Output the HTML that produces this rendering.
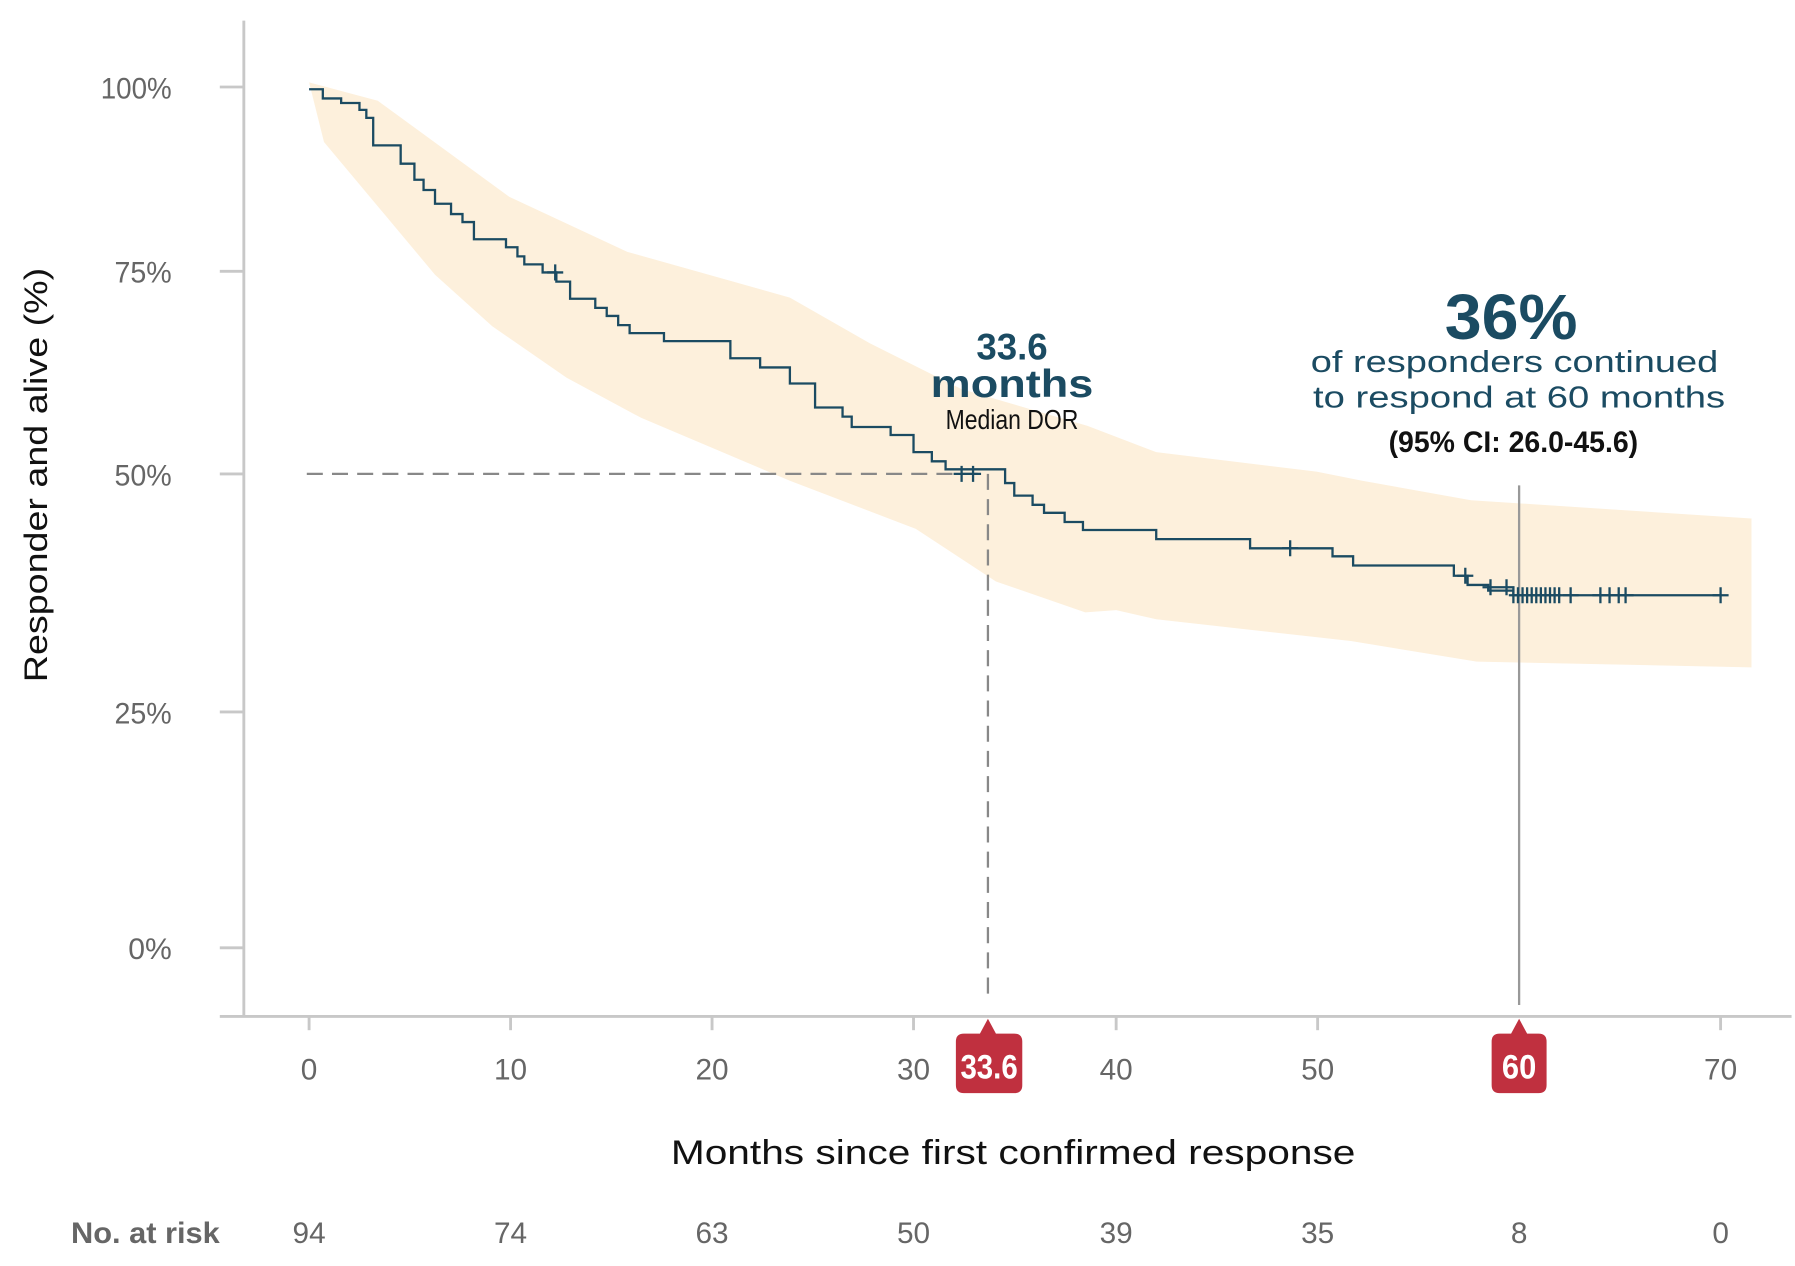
<!DOCTYPE html>
<html><head><meta charset="utf-8"><style>html,body{margin:0;padding:0;background:#fff}svg{display:block}</style></head>
<body>
<svg width="1795" height="1266" viewBox="0 0 1568 1106" preserveAspectRatio="none" xmlns="http://www.w3.org/2000/svg" font-family="Liberation Sans, sans-serif">
<rect width="1568" height="1106" fill="#fff"/>
<polygon fill="#fdf0dc" points="270,72 330,88 445,172 548,220 690,260 760,300 840,340 950,372 1010,395 1150,412 1190,420 1285,437 1530,453 1530,583 1290,578 1180,560 1010,541 975,533 948,535 870,508 800,462 690,420 560,365 495,330 430,285 380,240 283,124"/>
<g stroke="#c8c8c8" stroke-width="2.5">
<line x1="213" y1="18" x2="213" y2="888"/>
<line x1="192" y1="888" x2="1565" y2="888"/>
<line x1="192" y1="76" x2="213" y2="76"/><line x1="192" y1="237" x2="213" y2="237"/><line x1="192" y1="414" x2="213" y2="414"/><line x1="192" y1="622" x2="213" y2="622"/><line x1="192" y1="828" x2="213" y2="828"/>
<line x1="270" y1="888" x2="270" y2="900"/><line x1="446" y1="888" x2="446" y2="900"/><line x1="622" y1="888" x2="622" y2="900"/><line x1="798" y1="888" x2="798" y2="900"/><line x1="975" y1="888" x2="975" y2="900"/><line x1="1151" y1="888" x2="1151" y2="900"/><line x1="1503" y1="888" x2="1503" y2="900"/>
</g>
<line x1="268" y1="414" x2="855" y2="414" stroke="#888" stroke-width="2" stroke-dasharray="14,8"/>
<line x1="863" y1="414" x2="863" y2="872" stroke="#888" stroke-width="2" stroke-dasharray="14,8"/>
<line x1="1327" y1="424" x2="1327" y2="878" stroke="#999" stroke-width="2"/>
<path fill="none" stroke="#1b4b62" stroke-width="2" d="M270,78 H282 V86 H298 V90 H314 V96 H320 V103 H326 V127 H350 V143 H362 V157 H370 V166 H380 V178 H394 V187 H404 V194 H414 V209 H442 V216 H452 V224 H458 V231 H474 V238 H486 V246 H498 V261 H520 V269 H530 V276 H540 V284 H550 V291 H580 V298 H638 V313 H664 V321 H690 V335 H712 V356 H736 V364 H744 V373 H778 V380 H798 V395 H814 V403 H826 V410 H878 V422 H886 V433 H902 V441 H912 V448 H930 V456 H946 V463 H1010 V471 H1092 V479 H1164 V486 H1182 V494 H1270 V503 H1282 V511 H1300 V516 H1322 V520 H1503"/>
<g stroke="#1b4b62" stroke-width="2">
<path d="M478,238h14M485,231v14 M833,414h14M840,407v14 M843,414h14M850,407v14 M1120,479h14M1127,472v14 M1273,503h14M1280,496v14 M1295,513h14M1302,506v14 M1309,513h14M1316,506v14 M1365,520h14M1372,513v14 M1391,520h36M1398,513v14M1406,513v14M1414,513v14M1420,513v14 M1496,520h14M1503,513v14"/>
<path d="M1318,520h46 M1322,513v14M1326,513v14M1330,513v14M1334,513v14M1338,513v14M1342,513v14M1346,513v14M1350,513v14M1354,513v14M1358,513v14M1362,513v14"/>
</g>
<g fill="#666" font-size="26" text-anchor="end">
<text x="150" y="86" textLength="62" lengthAdjust="spacingAndGlyphs">100%</text><text x="150" y="247" textLength="50" lengthAdjust="spacingAndGlyphs">75%</text><text x="150" y="424" textLength="50" lengthAdjust="spacingAndGlyphs">50%</text><text x="150" y="632" textLength="50" lengthAdjust="spacingAndGlyphs">25%</text><text x="150" y="838" textLength="38" lengthAdjust="spacingAndGlyphs">0%</text>
</g>
<g fill="#666" font-size="26" text-anchor="middle">
<text x="270" y="943">0</text><text x="446" y="943">10</text><text x="622" y="943">20</text><text x="798" y="943">30</text><text x="975" y="943">40</text><text x="1151" y="943">50</text><text x="1503" y="943">70</text>
<text x="270" y="1086">94</text><text x="446" y="1086">74</text><text x="622" y="1086">63</text><text x="798" y="1086">50</text><text x="975" y="1086">39</text><text x="1151" y="1086">35</text><text x="1327" y="1086">8</text><text x="1503" y="1086">0</text>
</g>
<text x="62" y="1086" fill="#666" font-size="26" font-weight="bold" textLength="130" lengthAdjust="spacingAndGlyphs">No. at risk</text>
<text x="885" y="1017" fill="#111" font-size="30" text-anchor="middle" textLength="598" lengthAdjust="spacingAndGlyphs">Months since first confirmed response</text>
<text transform="translate(41,415) rotate(-90)" fill="#111" font-size="28" text-anchor="middle" textLength="362" lengthAdjust="spacingAndGlyphs">Responder and alive (%)</text>
<path d="M835,910 Q835,903 842,903 H856 L863,890 L870,903 H886 Q893,903 893,910 V948 Q893,955 886,955 H842 Q835,955 835,948 Z" fill="#c0303f"/>
<text x="864" y="942" fill="#fff" font-size="30" font-weight="bold" text-anchor="middle" textLength="50" lengthAdjust="spacingAndGlyphs">33.6</text>
<path d="M1303,910 Q1303,903 1310,903 H1320 L1327,890 L1334,903 H1344 Q1351,903 1351,910 V948 Q1351,955 1344,955 H1310 Q1303,955 1303,948 Z" fill="#c0303f"/>
<text x="1327" y="942" fill="#fff" font-size="30" font-weight="bold" text-anchor="middle" textLength="30" lengthAdjust="spacingAndGlyphs">60</text>
<g fill="#1b4b62" font-weight="bold" text-anchor="middle">
<text x="884" y="314" font-size="32">33.6</text>
<text x="884" y="347" font-size="34" textLength="142" lengthAdjust="spacingAndGlyphs">months</text>
<text x="1320" y="296" font-size="56" textLength="116" lengthAdjust="spacingAndGlyphs">36%</text>
</g>
<g fill="#1b4b62" text-anchor="middle" font-size="27">
<text x="1323" y="325" textLength="356" lengthAdjust="spacingAndGlyphs">of responders continued</text>
<text x="1327" y="356" textLength="360" lengthAdjust="spacingAndGlyphs">to respond at 60 months</text>
</g>
<text x="884" y="375" fill="#111" font-size="24" text-anchor="middle" textLength="116" lengthAdjust="spacingAndGlyphs">Median DOR</text>
<text x="1322" y="395" fill="#111" font-size="26" font-weight="bold" text-anchor="middle" textLength="218" lengthAdjust="spacingAndGlyphs">(95% CI: 26.0-45.6)</text>
</svg>
</body></html>
